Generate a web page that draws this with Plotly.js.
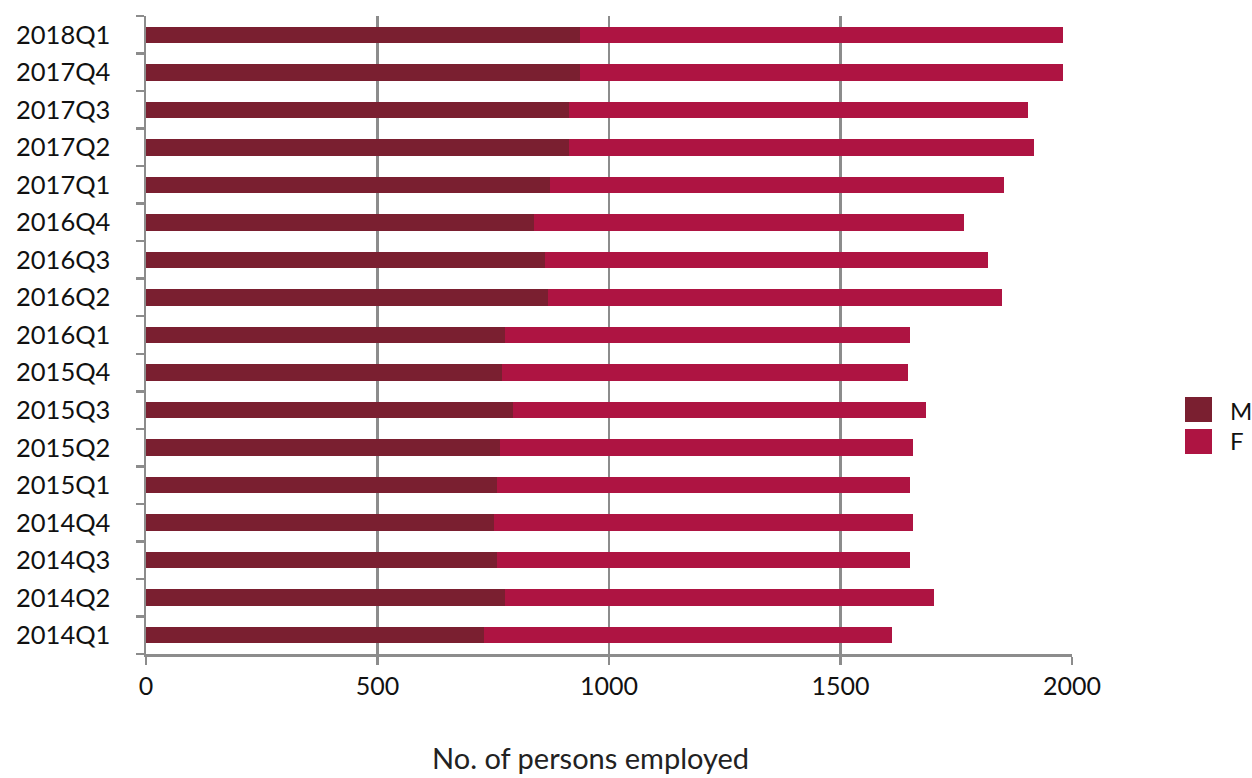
<!DOCTYPE html>
<html>
<head>
<meta charset="utf-8">
<script src="https://cdn.plot.ly/plotly-3.0.1.min.js"></script>
<style>
  html, body { margin: 0; padding: 0; background: #fff; }
  #chart { width: 1252px; height: 778px; }
</style>
</head>
<body>
<div id="chart"></div>
<script>
// Categories (bottom to top)
const quarters = ["2014Q1","2014Q2","2014Q3","2014Q4","2015Q1","2015Q2","2015Q3","2015Q4",
                  "2016Q1","2016Q2","2016Q3","2016Q4","2017Q1","2017Q2","2017Q3","2017Q4","2018Q1"];
// Male employed
const male   = [730, 775, 758, 752, 758, 765, 793, 769, 775, 868, 861, 838, 872, 913, 913, 937, 937];
// Female employed
const female = [882, 928, 893, 905, 893, 892, 892, 877, 876, 980, 958, 929, 982, 1004, 993, 1043, 1043];
const seriesNames = ["M", "F"];
const seriesColors = ["#7a1f30", "#ae1442"];
const xTicks = [0, 500, 1000, 1500, 2000];
const xTitle = "No. of persons employed";

const FONT = "Lato, 'Open Sans', sans-serif";
const GRID = "#8c8c8c";

const traces = [
  { type: "bar", orientation: "h", name: seriesNames[0], y: quarters, x: male,
    marker: { color: seriesColors[0] }, showlegend: false, hoverinfo: "x+y+name" },
  { type: "bar", orientation: "h", name: seriesNames[1], y: quarters, x: female,
    marker: { color: seriesColors[1] }, showlegend: false, hoverinfo: "x+y+name" }
];

// legend drawn manually (large square swatches)
const lgX0 = 1.1220, lgX1 = 1.1512, lgTx = 1.1685;
const lgRows = [
  { y0: 0.3636, y1: 0.4028, ty: 0.3824 },
  { y0: 0.3135, y1: 0.3527, ty: 0.3339 }
];
const shapes = lgRows.map((r, i) => ({
  type: "rect", xref: "paper", yref: "paper", x0: lgX0, x1: lgX1, y0: r.y0, y1: r.y1,
  fillcolor: seriesColors[i], line: { width: 0 }
}));
const annotations = lgRows.map((r, i) => ({
  xref: "paper", yref: "paper", x: lgTx, y: r.ty, xanchor: "left", yanchor: "middle",
  text: seriesNames[i], showarrow: false, font: { family: FONT, size: 24, color: "#111" }
}));
annotations.push({
  xref: "paper", yref: "paper", x: 0.4795, y: -0.1630, xanchor: "center", yanchor: "middle",
  text: xTitle, showarrow: false, font: { family: FONT, size: 29, color: "#222" }
});

const layout = {
  width: 1252, height: 778,
  margin: { l: 146, r: 180, t: 16, b: 124 },
  paper_bgcolor: "#fff", plot_bgcolor: "#fff",
  barmode: "stack", bargap: 0.56,
  font: { family: FONT, color: "#111" },
  xaxis: {
    range: [0, 2000], tickvals: xTicks, ticktext: xTicks.map(String),
    showgrid: true, gridcolor: GRID, gridwidth: 2.5,
    showline: true, linecolor: GRID, linewidth: 2.5,
    ticks: "outside", ticklen: 8, tickcolor: GRID, tickwidth: 2.5,
    tickfont: { family: FONT, size: 25, color: "#111" },
    zeroline: false, fixedrange: true
  },
  yaxis: {
    type: "category", categoryorder: "array", categoryarray: quarters,
    range: [-0.5, 16.5],
    showgrid: false, showline: true, linecolor: GRID, linewidth: 2.5,
    ticks: "outside", ticklen: 8, tickcolor: GRID, tickwidth: 2.5,
    tickson: "boundaries", ticklabelstandoff: 28,
    tickfont: { family: FONT, size: 25.5, color: "#111" },
    zeroline: false, fixedrange: true
  },
  shapes: shapes,
  annotations: annotations
};

Plotly.newPlot("chart", traces, layout, { displayModeBar: false, staticPlot: true });
</script>
</body>
</html>
